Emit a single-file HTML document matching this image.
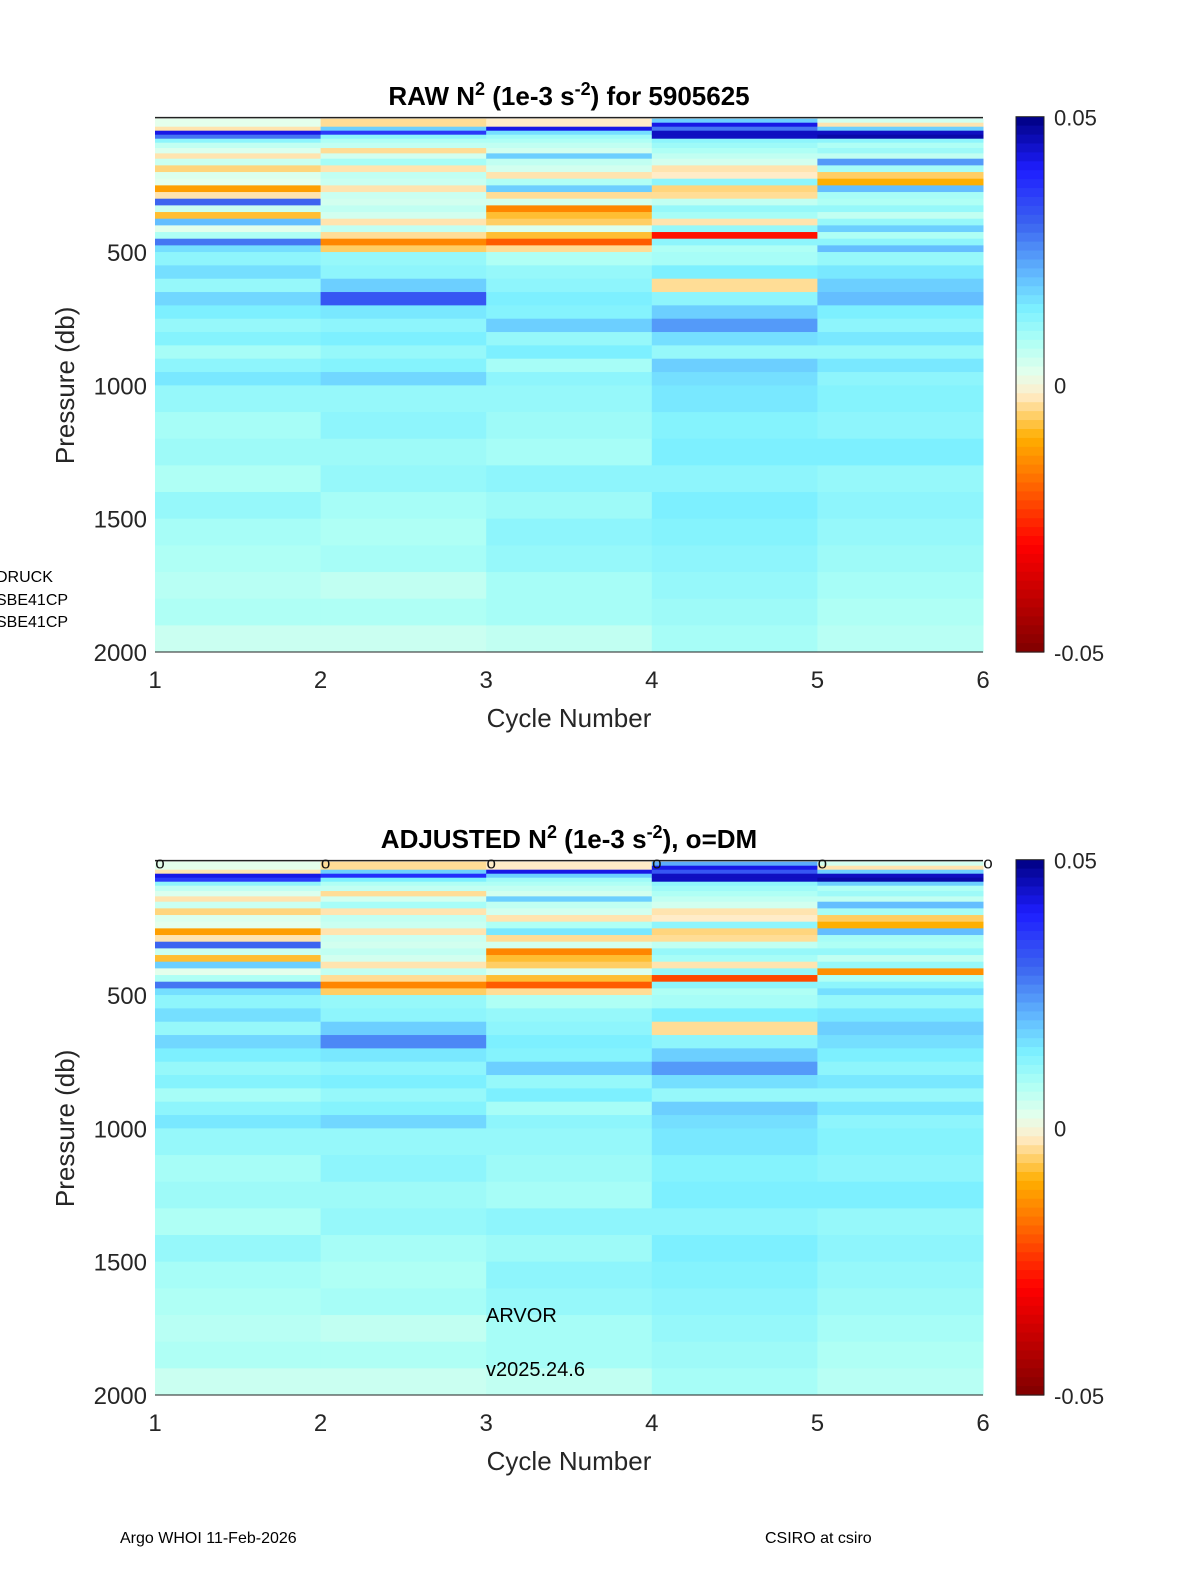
<!DOCTYPE html>
<html><head><meta charset="utf-8"><style>
body{margin:0;background:#fff;}
svg{display:block;font-family:"Liberation Sans",sans-serif;}
</style></head><body>
<svg id="fig" width="1200" height="1575" viewBox="0 0 1200 1575" xmlns="http://www.w3.org/2000/svg">
<rect x="0" y="0" width="1200" height="1575" fill="#fff"/>
<g id="raw"></g>
<g id="adj"></g>
<text x="569" y="105" font-size="26" font-weight="bold" text-anchor="middle">RAW N<tspan dy="-10" font-size="18">2</tspan><tspan dy="10"> (1e-3 s</tspan><tspan dy="-10" font-size="18">-2</tspan><tspan dy="10">) for 5905625</tspan></text>
<text x="569" y="848" font-size="26" font-weight="bold" text-anchor="middle">ADJUSTED N<tspan dy="-10" font-size="18">2</tspan><tspan dy="10"> (1e-3 s</tspan><tspan dy="-10" font-size="18">-2</tspan><tspan dy="10">), o=DM</tspan></text>
<text x="-4" y="582" font-size="16">DRUCK</text>
<text x="-4" y="605" font-size="16">SBE41CP</text>
<text x="-4" y="627" font-size="16">SBE41CP</text>
<text x="486" y="1322" font-size="20">ARVOR</text>
<text x="486" y="1376" font-size="20">v2025.24.6</text>
<text x="120" y="1543" font-size="16">Argo WHOI 11-Feb-2026</text>
<text x="765" y="1543" font-size="16">CSIRO at csiro</text>
</svg>
<script>
// pressure bin tops (db); last bin ends at 2000
const presBins=[0,15,30,45,60,75,90,110,130,150,175,200,225,250,275,300,325,350,375,400,425,450,475,500,550,600,650,700,750,800,850,900,950,1000,1100,1200,1300,1400,1500,1600,1700,1800,1900];
const cycles=[1,2,3,4,5];
const xTicks=[1,2,3,4,5,6];
const yTicks=[500,1000,1500,2000];
const cbTicks=[0.05,0,-0.05];
const dmCycles=[1,2,3,4,5,6];
// values in 1e-3 units (x 0.001)
const raw1=[2,2,-3,42,28,12,6,3,-3,5,-5,3,2,-12,-3,30,5,-8,20,2,8,28,16,12,16,11,17,14,11,13,9,12,15,11,9,10,8,11,9,8,7,8,5];
const raw2=[-4,-4,18,36,12,8,6,-4,4,9,-3,6,5,-3,5,4,6,4,-3,6,-4,-15,-6,11,12,18,32,15,12,14,11,13,17,11,12,10,11,9,8,9,6,8,5];
const raw3=[-2,-2,42,16,10,8,6,4,18,6,4,-3,8,18,-4,4,-15,-8,-6,3,-8,-20,-4,8,11,12,14,13,18,11,14,9,12,11,10,9,12,10,12,11,9,9,6];
const raw4=[18,42,28,45,45,12,10,8,6,4,-3,-2,12,-5,-4,6,11,9,-3,11,-28,12,8,9,14,-4,12,18,24,16,11,18,16,15,13,14,12,14,13,12,11,10,9];
const raw5=[4,-3,18,45,47,12,8,10,6,24,9,-6,-10,20,9,8,11,6,11,18,8,12,20,11,15,18,20,14,12,15,11,15,12,13,12,14,11,12,11,10,9,8,7];
const adj1=[2,2,-3,42,36,12,6,3,-3,5,-5,3,2,-12,-3,30,5,-8,18,2,8,28,16,12,16,11,17,14,11,13,9,12,15,11,9,10,8,11,9,8,7,8,5];
const adj2=[-4,-4,18,38,14,8,6,-4,4,9,-3,6,5,-3,5,4,6,4,-3,6,-4,-15,-6,11,12,18,26,15,12,14,11,13,17,11,12,10,11,9,8,9,6,8,5];
const adj3=[-2,-2,42,18,10,8,6,4,18,6,4,-3,8,15,-4,4,-15,-8,-6,3,-8,-20,-4,8,11,12,14,13,18,11,14,9,12,11,10,9,12,10,12,11,9,9,6];
const adj4=[22,42,32,45,45,12,10,8,6,4,-3,-2,12,-5,-4,6,11,9,-3,11,-22,12,8,9,14,-4,12,18,24,16,11,18,16,15,13,14,12,14,13,12,11,10,9];
const adj5=[4,-3,18,45,47,18,8,10,6,20,9,-6,-10,20,9,8,11,6,11,-14,8,12,16,11,15,18,16,14,12,15,11,15,12,13,12,14,11,12,11,10,9,8,7];

const stops=[[-0.05,[128,0,0]],[-0.03,[255,0,0]],[-0.018,[255,110,0]],[-0.01,[255,175,0]],[-0.002,[255,236,200]],[0.002,[228,255,236]],[0.008,[175,255,245]],[0.014,[125,240,255]],[0.02,[100,190,255]],[0.03,[60,100,240]],[0.04,[30,30,255]],[0.05,[0,0,130]]];
function cmap(v){
  if(v<=stops[0][0])return 'rgb('+stops[0][1]+')';
  for(let i=1;i<stops.length;i++){
    if(v<=stops[i][0]){const a=stops[i-1],b=stops[i],t=(v-a[0])/(b[0]-a[0]);
      return 'rgb('+a[1].map((c,j)=>Math.round(c+(b[1][j]-c)*t)).join(',')+')';}
  }
  return 'rgb('+stops[stops.length-1][1]+')';
}
const NS='http://www.w3.org/2000/svg';
function mk(tag,attrs,parent){const e=document.createElementNS(NS,tag);for(const k in attrs)e.setAttribute(k,attrs[k]);parent.appendChild(e);return e;}
const xL=155,xR=983;
function xScale(c){return xL+(c-1)*(xR-xL)/5;}
function drawPanel(g,y0,cols,showDM){
  const k=(400)/1500;
  const yS=p=>y0+p*k;
  cols.forEach((col,ci)=>{
    col.forEach((v,i)=>{
      const p0=presBins[i],p1=i+1<presBins.length?presBins[i+1]:2000;
      const r=mk('rect',{x:xScale(cycles[ci]),y:yS(p0),width:xScale(cycles[ci]+1)-xScale(cycles[ci])+0.5,height:yS(p1)-yS(p0)+0.5,fill:cmap(v*0.001)},g);
      
      
    });
  });
  const top=mk('line',{x1:xL,x2:xR,y1:yS(-4),y2:yS(-4),stroke:'#222','stroke-width':1.5},g);
  
  
  const bot=mk('line',{x1:xL,x2:xR,y1:yS(2000),y2:yS(2000),stroke:'#222','stroke-width':1},g);
  
  
  xTicks.forEach(t=>{
    const tx=mk('text',{x:xScale(t),y:yS(2000)+36,'font-size':24,'text-anchor':'middle',fill:'#262626'},g);
    tx.textContent=t;
    
    
  });
  yTicks.forEach(t=>{
    const tx=mk('text',{x:147,y:yS(t)+9,'font-size':24,'text-anchor':'end',fill:'#262626'},g);
    tx.textContent=t;
    
    
  });
  const xt=mk('text',{x:569,y:yS(2000)+75,'font-size':26,'text-anchor':'middle',fill:'#262626'},g);
  xt.textContent='Cycle Number';
  
  
  const yt=mk('text',{x:0,y:0,'font-size':26,'text-anchor':'middle',fill:'#262626',transform:'translate(74,'+yS(1000)+') rotate(-90)'},g);
  yt.textContent='Pressure (db)';
  
  
  const cbx=1016,cbw=28,cbT=yS(0)-2,cbB=yS(2000);
  const n=60;
  for(let i=0;i<n;i++){
    const v=0.05-(i+0.5)*0.1/n;
    const r=mk('rect',{x:cbx,y:cbT+i*(cbB-cbT)/n,width:cbw,height:(cbB-cbT)/n+0.6,fill:cmap(v)},g);
    
    
  }
  const fr=mk('rect',{x:cbx,y:cbT,width:cbw,height:cbB-cbT,fill:'none',stroke:'#222','stroke-width':1},g);
  
  
  cbTicks.forEach(t=>{
    const yy=cbT+(0.05-t)/0.1*(cbB-cbT);
    const tx=mk('text',{x:1054,y:yy+9,'font-size':22,fill:'#262626'},g);
    tx.textContent=t;
    
    
  });
  if(showDM){
    dmCycles.forEach(c=>{
      const o=mk('text',{x:xScale(c)+5,y:yS(0)+7,'font-size':17,'text-anchor':'middle',fill:'#111'},g);
      o.textContent='o';
      
      
    });
  }
}
drawPanel(document.getElementById('raw'),118.7,[raw1,raw2,raw3,raw4,raw5],false);
drawPanel(document.getElementById('adj'),861.7,[adj1,adj2,adj3,adj4,adj5],true);
</script>
</body></html>
